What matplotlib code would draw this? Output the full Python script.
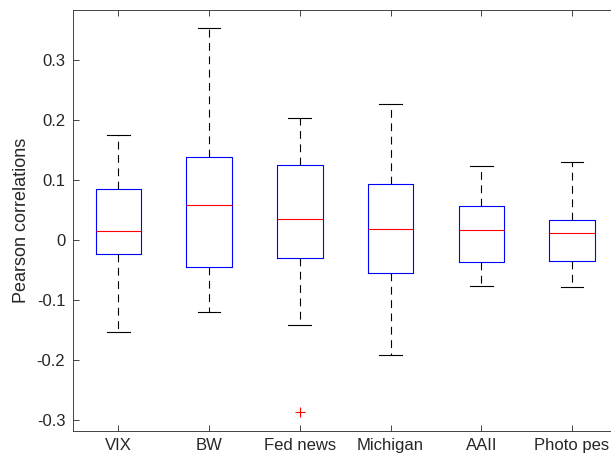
#!/usr/bin/env python3

import matplotlib
matplotlib.use('Agg')
import matplotlib.pyplot as plt

plt.rc('font', family=['Liberation Sans', 'DejaVu Sans'])

labels = ['VIX', 'BW', 'Fed news', 'Michigan', 'AAII', 'Photo pes']
whislo = [-0.153, -0.120, -0.142, -0.192, -0.077, -0.078]
q1 = [-0.023, -0.045, -0.030, -0.055, -0.037, -0.035]
med = [0.015, 0.058, 0.035, 0.018, 0.017, 0.012]
q3 = [0.085, 0.138, 0.125, 0.093, 0.057, 0.033]
whishi = [0.175, 0.353, 0.203, 0.227, 0.123, 0.130]
fliers = [[], [], [-0.287], [], [], []]

stats = []
for i in range(len(labels)):
    stats.append(dict(label=labels[i], whislo=whislo[i], q1=q1[i], med=med[i],
                      q3=q3[i], whishi=whishi[i], fliers=fliers[i]))

fig = plt.figure(figsize=(6.11, 4.59), dpi=100)
ax = fig.add_axes([73/611, 28/459, 544.4/611, 421/459])

gray = (0.15, 0.15, 0.15)
ax.bxp(stats, positions=range(1, 7), widths=0.5, capwidths=0.25,
       boxprops=dict(color='blue', linewidth=0.8),
       medianprops=dict(color='red', linewidth=0.8),
       whiskerprops=dict(color='black', linestyle=(0, (7, 5)), linewidth=0.8),
       capprops=dict(color='black', linewidth=0.8),
       flierprops=dict(marker='+', markeredgecolor='red', markersize=7,
                       markeredgewidth=0.8, linestyle='none'))

ax.set_xlim(0.5, 6.5)
ax.set_ylim(-0.3183, 0.3833)
ax.set_yticks([-0.3, -0.2, -0.1, 0, 0.1, 0.2, 0.3])
ax.set_yticklabels(['-0.3', '-0.2', '-0.1', '0', '0.1', '0.2', '0.3'])
ax.tick_params(direction='in', top=True, right=True, labelsize=12,
               colors=gray, length=4, width=0.6)
ax.tick_params(axis='y', pad=5.5)
ax.tick_params(axis='x', pad=5)
for sp in ax.spines.values():
    sp.set_color(gray)
    sp.set_linewidth(0.6)
ax.set_ylabel('Pearson correlations', fontsize=13, color=gray, labelpad=5)

fig.savefig('out.png', dpi=100)
